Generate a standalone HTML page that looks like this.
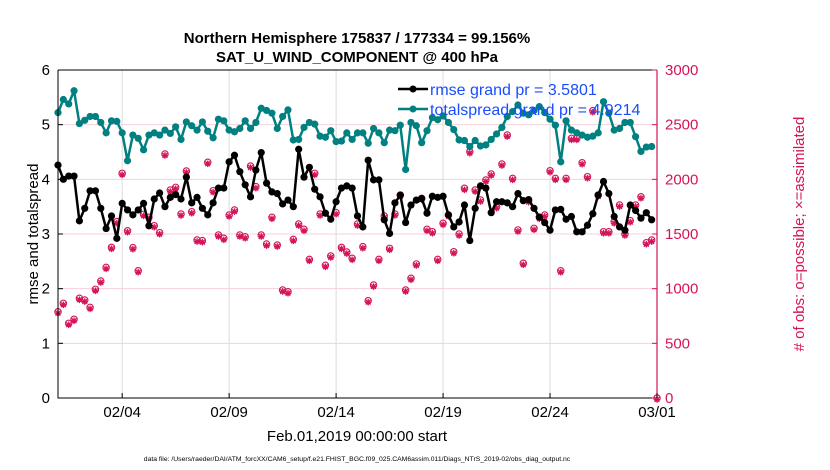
<!DOCTYPE html>
<html><head><meta charset="utf-8"><style>
body{margin:0;background:#fff;}
svg{display:block;font-family:"Liberation Sans",sans-serif;}
</style></head><body>
<svg id="chart" width="830" height="470" viewBox="0 0 830 470">
<text x="357" y="43" text-anchor="middle" font-size="15" font-weight="bold">Northern Hemisphere 175837 / 177334 = 99.156%</text>
<text x="357" y="62" text-anchor="middle" font-size="15" font-weight="bold">SAT_U_WIND_COMPONENT @ 400 hPa</text>
<g id="grid"></g>
<g id="series"></g>
<g id="axes"></g>
<g>
<line x1="398" y1="89" x2="428" y2="89" stroke="#000" stroke-width="2.5"/><circle cx="413" cy="89" r="3.5" fill="#000"/>
<text x="430" y="95" font-size="16" fill="#1a4cff">rmse grand pr = 3.5801</text>
<line x1="398" y1="109" x2="428" y2="109" stroke="#008080" stroke-width="2.5"/><circle cx="413" cy="109" r="3.5" fill="#008080"/>
<text x="430" y="115" font-size="16" fill="#1a4cff">totalspread grand pr = 4.9214</text>
</g>
<text transform="translate(38,234) rotate(-90)" text-anchor="middle" font-size="15">rmse and totalspread</text>
<text transform="translate(804,234) rotate(-90)" text-anchor="middle" font-size="15" fill="#d4145a"># of obs: o=possible; ×=assimilated</text>
<text x="357" y="441" text-anchor="middle" font-size="15">Feb.01,2019 00:00:00 start</text>
<text x="357" y="461" text-anchor="middle" font-size="6.8">data file: /Users/raeder/DAI/ATM_forcXX/CAM6_setup/f.e21.FHIST_BGC.f09_025.CAM6assim.011/Diags_NTrS_2019-02/obs_diag_output.nc</text>
</svg>
<script>
const rmse=[4.26,4.0,4.06,4.06,3.24,3.47,3.79,3.79,3.47,3.10,3.33,2.92,3.56,3.44,3.35,3.44,3.56,3.15,3.64,3.75,3.50,3.67,3.72,3.64,4.04,3.57,3.67,3.47,3.35,3.57,
3.84,3.84,4.32,4.44,4.14,3.90,3.68,4.17,4.49,3.93,3.77,3.74,3.55,3.62,3.50,4.55,4.04,4.22,3.82,3.68,3.38,3.27,3.59,3.84,3.88,3.84,3.33,3.13,
4.35,3.99,3.99,3.26,3.01,3.57,3.71,3.21,3.53,3.62,3.65,3.38,3.69,3.67,3.69,3.35,3.13,3.22,3.53,2.88,3.47,3.88,3.84,3.39,3.59,3.59,3.57,3.50,
3.74,3.61,3.63,3.47,3.31,3.21,3.07,3.44,3.45,3.27,3.32,3.04,3.04,3.16,3.37,3.71,3.96,3.74,3.32,3.13,3.07,3.53,3.43,3.29,3.39,3.26];
const spread=[5.22,5.46,5.38,5.62,5.02,5.08,5.15,5.15,5.04,4.85,5.07,5.06,4.85,4.34,4.81,4.75,4.54,4.81,4.85,4.81,4.90,4.84,4.96,4.73,5.05,4.98,4.90,5.05,4.88,4.76,
5.10,5.07,4.90,4.87,4.93,5.07,4.93,5.04,5.30,5.26,5.21,4.93,5.15,5.27,4.72,4.73,4.95,5.04,5.01,4.79,4.77,4.89,4.69,4.70,4.85,4.73,4.85,4.85,
4.66,4.93,4.85,4.67,4.90,4.89,4.99,4.18,5.04,4.98,4.67,4.89,5.13,5.09,5.16,5.04,4.91,4.72,4.71,4.60,4.71,4.61,4.63,4.73,4.83,4.95,5.15,5.24,
5.36,5.21,5.18,5.26,5.33,5.22,5.10,4.99,4.32,5.07,4.90,4.85,4.81,4.77,4.79,4.85,5.42,5.21,4.90,4.93,5.04,5.04,4.78,4.51,4.59,4.60];
const obsPossible=[789,866,683,720,912,896,829,994,1070,1195,1378,1613,2055,1530,1375,1164,1680,1653,1576,1512,2232,1902,1927,1683,2076,1704,1445,1439,2156,1896,
1491,1461,1674,1719,1491,1475,2122,1933,1491,1408,1653,1399,988,972,1451,1591,1543,1268,2055,1683,1214,1299,1695,1378,1335,1278,1591,1384,
890,1033,1268,1665,1369,1683,1857,988,1095,1226,1826,1543,1521,1268,1598,1674,1338,1500,1918,2253,1902,1811,1994,2049,1750,2140,2405,2009,
1537,1232,1805,1552,1653,1674,2079,2009,1164,2009,2375,2375,2152,2024,2628,1857,1521,1521,1612,1765,1500,1622,1765,1841,1420,1445,0];
const obsAssim=obsPossible.map(v=>v);
const leftTicks=[0,1,2,3,4,5,6];
const rightTicks=[0,500,1000,1500,2000,2500,3000];
const xTickDays=[3,8,13,18,23,28];
const xTickLabels=["02/04","02/09","02/14","02/19","02/24","03/01"];
const stepDays=0.25;

const X0=58,X1=657,Y0=398,Y1=70;
const xs=d=>X0+d/28*(X1-X0);
const yl=v=>Y0-v/6*(Y0-Y1);
const yr=v=>Y0-v/3000*(Y0-Y1);
const NS="http://www.w3.org/2000/svg";
function mk(tag,attrs,parent){const e=document.createElementNS(NS,tag);for(const k in attrs)e.setAttribute(k,attrs[k]);parent.appendChild(e);return e;}
const grid=document.getElementById('grid'),ser=document.getElementById('series'),ax=document.getElementById('axes');
rightTicks.forEach(t=>{if(t>0&&t<3000){const l=mk('line',{x1:X0,x2:X1,y1:yr(t),y2:yr(t),stroke:'#f5d0dc','stroke-width':1},grid);

}});
xTickDays.forEach(d=>{if(d<28){const l=mk('line',{x1:xs(d),x2:xs(d),y1:Y0,y2:Y1,stroke:'#dcdcdc','stroke-width':1},grid);

}});
obsPossible.forEach((v,i)=>{const x=xs(i*stepDays),y=yr(v);
const c=mk('circle',{cx:x,cy:y,r:3.2,fill:'none',stroke:'#d4145a','stroke-width':1.1},ser);

});
obsAssim.forEach((v,i)=>{const x=xs(i*stepDays),y=yr(v)+1.5;
const g=mk('path',{d:`M${x-3.3},${y}H${x+3.3}M${x},${y-3.3}V${y+3.3}M${x-2.4},${y-2.4}L${x+2.4},${y+2.4}M${x-2.4},${y+2.4}L${x+2.4},${y-2.4}`,stroke:'#d4145a','stroke-width':1.3},ser);

});
function line(arr,col,name){const p=mk('polyline',{points:arr.map((v,i)=>xs(i*stepDays)+','+yl(v)).join(' '),fill:'none',stroke:col,'stroke-width':2.5,'stroke-linejoin':'round'},ser);


arr.forEach((v,i)=>{const c=mk('circle',{cx:xs(i*stepDays),cy:yl(v),r:3.6,fill:col},ser);

});}
line(spread,'#008080','totalspread');
line(rmse,'#000','rmse');
mk('path',{d:`M${X0},${Y1}H${X1}M${X0},${Y1}V${Y0}H${X1}`,stroke:'#000',fill:'none','stroke-width':1},ax);
mk('line',{x1:X1,x2:X1,y1:Y1,y2:Y0,stroke:'#d4145a','stroke-width':1.2},ax);
leftTicks.forEach(t=>{mk('line',{x1:X0,x2:X0+5,y1:yl(t),y2:yl(t),stroke:'#000'},ax);
const tx=mk('text',{x:X0-8,y:yl(t)+5,'text-anchor':'end','font-size':15},ax);tx.textContent=t;

});
rightTicks.forEach(t=>{mk('line',{x1:X1,x2:X1-5,y1:yr(t),y2:yr(t),stroke:'#d4145a'},ax);
const tx=mk('text',{x:X1+8,y:yr(t)+5,'font-size':15,fill:'#d4145a'},ax);tx.textContent=t;

});
xTickDays.forEach((d,i)=>{mk('line',{x1:xs(d),x2:xs(d),y1:Y0,y2:Y0-5,stroke:'#000'},ax);
const tx=mk('text',{x:xs(d),y:417,'text-anchor':'middle','font-size':15},ax);tx.textContent=xTickLabels[i];

});
</script>
</body></html>
